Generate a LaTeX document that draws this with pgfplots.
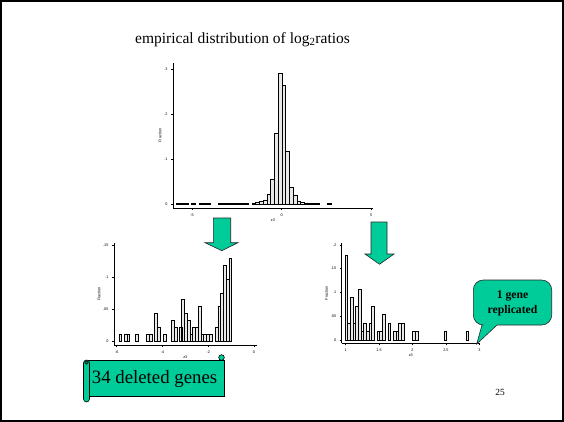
\documentclass[border=0pt]{standalone}
\usepackage{fontspec}
\setmainfont{Liberation Serif}
\newfontfamily\arialfont{Liberation Sans}
\usepackage{pgfplots}
\pgfplotsset{compat=1.18}

\definecolor{calloutgreen}{RGB}{0,204,153}
\definecolor{barfill}{RGB}{232,232,232}

\pgfplotsset{
  statahist/.style={
    scale only axis,
    axis x line*=bottom,
    axis y line*=left,
    axis line style={black, line width=0.7pt},
    every tick/.style={black, line width=0.5pt},
    tick align=outside,
    major tick length=2pt,
    tick label style={font=\fontsize{3.8}{4}\selectfont\arialfont},
    label style={font=\fontsize{3.8}{4}\selectfont\arialfont},
    xlabel style={yshift=4.5pt},
    ylabel style={yshift=-4pt},
    ybar, bar shift=0pt,
    clip=false,
  },
  histbars/.style={draw=black, line width=0.6pt, fill=barfill},
}

\begin{document}
\begin{tikzpicture}
\path[use as bounding box] (0pt,0pt) rectangle (564pt,-422pt);

% all log2 ratios
\begin{axis}[statahist, at={(173pt,-208pt)}, anchor=south west,
  width=200pt, height=145pt,
  xmin=-6.06, xmax=5.1, ymin=-0.0089, ymax=0.313,
  xtick={-5,0,5}, xticklabels={-5,0,5},
  ytick={0,0.1,0.2,0.3}, yticklabels={0,.1,.2,.3},
  xlabel={z3}, ylabel={Fraction}, bar width=0.21]
\addplot[histbars] coordinates {
  (-5.755,0.0015) (-5.545,0.0015) (-5.335,0.0015) (-4.915,0.0015)
  (-4.495,0.0015) (-4.285,0.0015) (-4.075,0.0015)
  (-3.445,0.0015) (-3.235,0.0015) (-3.025,0.0015) (-2.815,0.0015)
  (-2.605,0.0015) (-2.395,0.0015) (-2.185,0.0015) (-1.975,0.0015)
  (-1.555,0.002) (-1.345,0.003)
  (-1.135,0.005) (-0.925,0.009) (-0.715,0.022) (-0.505,0.054)
  (-0.295,0.156) (-0.085,0.290) (0.125,0.264) (0.335,0.117)
  (0.545,0.038) (0.755,0.019) (0.965,0.007) (1.175,0.004)
  (1.385,0.0025) (1.595,0.002) (1.805,0.0015) (2.015,0.0015)
  (2.645,0.0015)
};
\end{axis}

% ratios below -1
\begin{axis}[statahist, at={(114pt,-345pt)}, anchor=south west,
  width=142.7pt, height=102pt,
  xmin=-6.12, xmax=0.12, ymin=-0.006, ymax=0.153,
  xtick={-6,-4,-2,0}, xticklabels={-6,-4,-2,0},
  ytick={0,0.05,0.1,0.15}, yticklabels={0,.05,.1,.15},
  xlabel={z3}, ylabel={Fraction}, bar width=0.12]
\addplot[histbars] coordinates {
  (-5.84,0.0108) (-5.62,0.0108) (-5.50,0.0108) (-5.11,0.0108)
  (-4.63,0.0108) (-4.51,0.0108) (-4.29,0.0430) (-4.16,0.0215)
  (-3.90,0.0108) (-3.56,0.0323) (-3.43,0.0215) (-3.21,0.0215)
  (-3.10,0.0645) (-2.98,0.0430) (-2.86,0.0323) (-2.74,0.0108)
  (-2.62,0.0215) (-2.50,0.0215) (-2.38,0.0538) (-2.26,0.0108)
  (-2.14,0.0108) (-2.02,0.0108) (-1.90,0.0108)
  (-1.64,0.0215) (-1.52,0.0538) (-1.40,0.0753) (-1.28,0.1183)
  (-1.16,0.0968) (-1.04,0.1290)
};
\end{axis}

% ratios above 1
\begin{axis}[statahist, at={(341.7pt,-343.3pt)}, anchor=south west,
  width=138.3pt, height=100.3pt,
  xmin=0.94, xmax=3.01, ymin=-0.007, ymax=0.204,
  xtick={1,1.5,2,2.5,3}, xticklabels={1,1.5,2,2.5,3},
  ytick={0,0.05,0.1,0.15,0.2}, yticklabels={0,.05,.1,.15,.2},
  xlabel={z3}, ylabel={Fraction}, bar width=0.04]
\addplot[histbars] coordinates {
  (1.01,0.1786) (1.05,0.0357) (1.09,0.0893) (1.13,0.0357)
  (1.17,0.0714) (1.21,0.1071) (1.25,0.0179) (1.29,0.0357)
  (1.33,0.0179) (1.37,0.0357) (1.41,0.0714) (1.49,0.0179)
  (1.53,0.0179) (1.57,0.0536) (1.65,0.0357) (1.73,0.0179)
  (1.77,0.0179) (1.81,0.0357) (1.85,0.0357)
  (2.015,0.0179) (2.065,0.0179) (2.49,0.0179) (2.82,0.0179)
};
\end{axis}

\begin{scope}[x=1pt, y=-1pt]
  % slide frame
  \draw[line width=1.6pt] (0.8,0.8) rectangle (563.2,421.2);

  % heading
  \node[anchor=base west, inner sep=0pt, font=\fontsize{15.5}{18}\selectfont]
    at (135,43.3) {empirical distribution of log\textsubscript{2}ratios};

  % block arrows
  \draw[fill=calloutgreen, draw=black!85, line width=0.6pt]
    (213.3,218) -- (230.7,218) -- (230.7,242.7) -- (238,242.7)
    -- (221.8,250.7) -- (205,242.7) -- (213.3,242.7) -- cycle;
  \draw[fill=calloutgreen, draw=black!85, line width=0.6pt]
    (371,222) -- (387,222) -- (387,254) -- (394,254)
    -- (379.5,264.3) -- (365,254) -- (371,254) -- cycle;

  % scroll
  \draw[fill=calloutgreen, line width=0.6pt] (88,360) rectangle (224,396.5);
  \draw[fill=calloutgreen, line width=0.6pt] (221.5,357.5) circle (2.8);
  \draw[fill=calloutgreen, line width=0.6pt, rounded corners=3pt]
    (83.5,360) rectangle (89.5,402);
  \draw[fill=calloutgreen!70!black, line width=0.5pt] (86.5,362.5) circle (1.8);
  \node[font=\fontsize{18.8}{20}\selectfont] at (154.5,379.5) {34 deleted genes};

  % speech bubble
  \draw[fill=calloutgreen, draw=black!85, line width=0.6pt]
    (482,325) [rounded corners=10pt] -- (473.3,325) -- (473.3,280)
    -- (551.7,280) -- (551.7,325) [sharp corners] -- (497,325)
    -- (476.7,344) -- (482,325) -- cycle;
  \node[font=\fontsize{11.7}{15}\selectfont\bfseries, align=center]
    at (512.5,303.5) {1 gene\\replicated};

  % slide number
  \node[font=\fontsize{9.4}{11}\selectfont] at (500,392) {25};
\end{scope}
\end{tikzpicture}
\end{document}
